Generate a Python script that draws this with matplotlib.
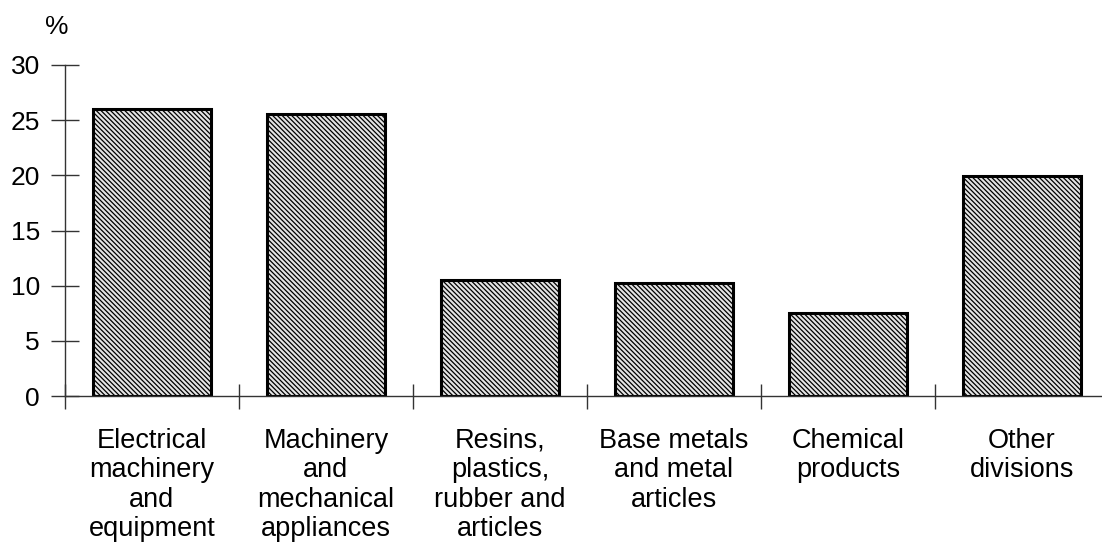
import matplotlib.pyplot as plt
import matplotlib as mpl

plt.rcParams['font.family'] = ['Liberation Sans', 'DejaVu Sans']
plt.rcParams['hatch.color'] = '#999999'
plt.rcParams['hatch.linewidth'] = 0.9

categories = ["Electrical\nmachinery\nand\nequipment",
              "Machinery\nand\nmechanical\nappliances",
              "Resins,\nplastics,\nrubber and\narticles",
              "Base metals\nand metal\narticles",
              "Chemical\nproducts",
              "Other\ndivisions"]
shares = [26.0, 25.6, 10.5, 10.2, 7.5, 19.9]
yticks = [0, 5, 10, 15, 20, 25, 30]

fig = plt.figure(figsize=(11.02, 5.52), dpi=100)
ax = fig.add_axes([65 / 1102, 156 / 552, 1044 / 1102, 331 / 552])

x = list(range(len(categories)))
ax.bar(x, shares, width=0.68, color='#e4e4e4', edgecolor='black',
       linewidth=2.2, hatch='\\\\\\\\\\\\\\')

ax.set_xlim(-0.5, len(categories) - 0.5)
ax.set_ylim(0, 30)
ax.set_yticks(yticks)
ax.set_xticks([i - 0.5 for i in range(len(categories) + 1)])
ax.set_xticklabels([])
ax.set_xticks(x, minor=True)
ax.set_xticklabels(categories, minor=True, fontsize=19.5, linespacing=1.17)

ax.tick_params(axis='x', which='major', direction='inout', length=18, width=1, color='#333333')
ax.tick_params(axis='x', which='minor', length=0, pad=23)
ax.tick_params(axis='y', direction='inout', length=20, width=1, color='#333333',
               labelsize=19, pad=8)

for s in ['top', 'right']:
    ax.spines[s].set_visible(False)
for s in ['left', 'bottom']:
    ax.spines[s].set_color('#333333')
    ax.spines[s].set_linewidth(1)

fig.text(57 / 1102, 1 - 27 / 552, '%', fontsize=19, ha='center', va='center')

fig.savefig('out.png', dpi=100)
